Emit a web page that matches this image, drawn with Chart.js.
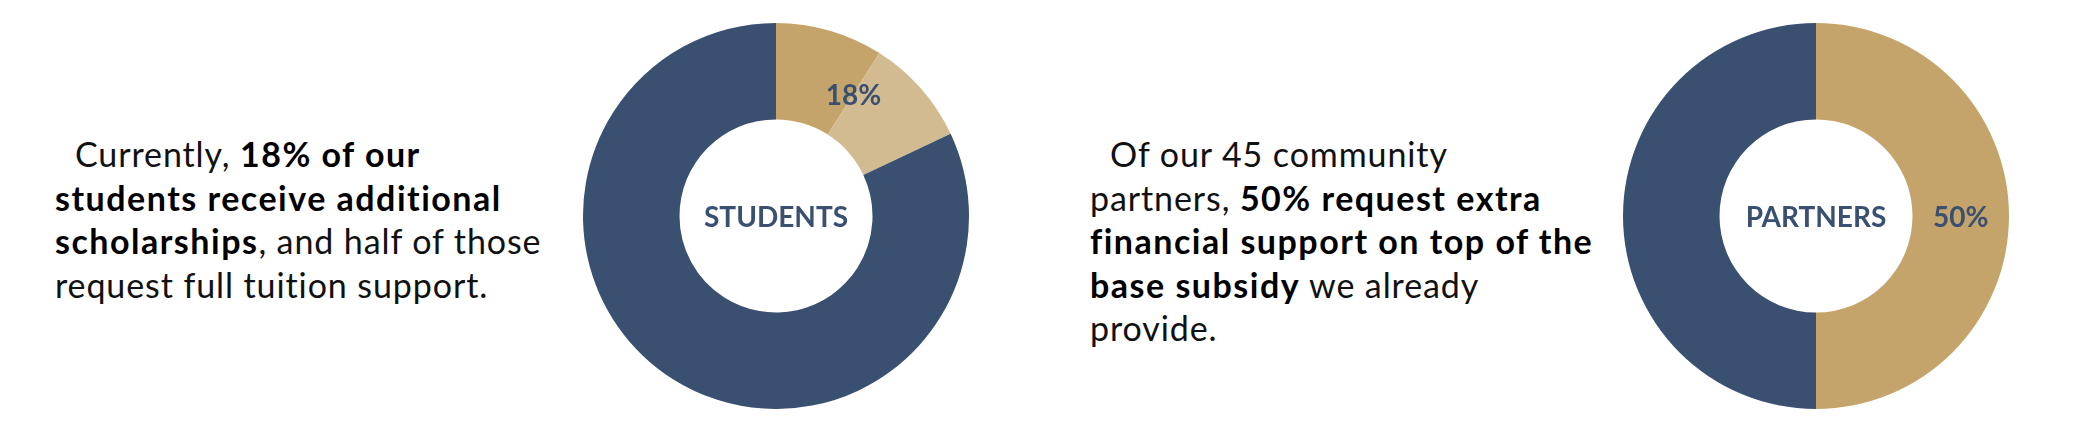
<!DOCTYPE html>
<html>
<head>
<meta charset="utf-8">
<script src="https://cdn.jsdelivr.net/npm/chart.js@4/dist/chart.umd.min.js"></script>
<style>
  html, body { margin: 0; padding: 0; background: #fff; }
  body { width: 2080px; height: 434px; position: relative; overflow: hidden; font-family: Lato, sans-serif; }
  .blurb {
    position: absolute;
    top: 132px;
    font-size: 34px;
    line-height: 43.5px;
    letter-spacing: 0.9px;
    color: #111;
    white-space: nowrap;
    text-indent: 20px;
  }
  .blurb b { font-weight: 700; color: #000; letter-spacing: 1.5px; }
  .donut { position: absolute; top: 23px; width: 386px; height: 386px; }
</style>
</head>
<body>
<div class="blurb" style="left:55px">Currently, <b>18% of our</b><br><b>students receive additional</b><br><b>scholarships</b>, and half of those<br>request full tuition support.</div>
<div class="donut" style="left:583px"><canvas id="studentsChart"></canvas></div>

<div class="blurb" style="left:1090px">Of our 45 community<br>partners, <b>50% request extra</b><br><b>financial support on top of the</b><br><b>base subsidy</b> we already<br>provide.</div>
<div class="donut" style="left:1623px"><canvas id="partnersChart"></canvas></div>

<script>
// students: half of the 18% ask for full tuition support
var studentLabels = ['Full tuition support', 'Other additional scholarships', 'No additional scholarship'];
var studentValues = [9, 9, 82];
var studentHighlight = 2; // first N slices make up the labelled share

var partnerLabels = ['Extra financial support', 'Base subsidy only'];
var partnerValues = [50, 50];
var partnerHighlight = 1;

var navy = 'rgb(58, 80, 112)';
var gold = 'rgb(196, 164, 106)';
var lightGold = 'rgb(211, 187, 145)';

// draws the centre title and the share label inside the ring
var ringLabels = {
    id: 'ringLabels',
    afterDatasetsDraw: function(chart, args, opts) {
        var ctx = chart.ctx;
        var arcs = chart.getDatasetMeta(0).data;
        var values = chart.data.datasets[0].data;
        var total = values.reduce(function(a, b) { return a + b; }, 0);
        var share = 0;
        for (var i = 0; i < opts.count; i++) share += values[i];
        var first = arcs[0], last = arcs[opts.count - 1];
        var mid = (first.startAngle + last.endAngle) / 2;
        var r = (first.innerRadius + first.outerRadius) / 2;

        ctx.save();
        ctx.fillStyle = navy;
        ctx.textAlign = 'center';
        ctx.textBaseline = 'middle';
        ctx.font = 'bold 28px Lato';
        ctx.fillText(opts.title, first.x, first.y + 2);
        ctx.fillText(Math.round(share / total * 100) + '%', first.x + Math.cos(mid) * r, first.y + Math.sin(mid) * r + 2);
        ctx.restore();
    }
};

function makeDonut(id, labels, values, colors, title, count) {
    return new Chart(document.getElementById(id).getContext('2d'), {
        type: 'doughnut',
        data: {
            labels: labels,
            datasets: [{
                data: values,
                backgroundColor: colors,
                borderWidth: 0
            }]
        },
        options: {
            responsive: true,
            maintainAspectRatio: false,
            animation: false,
            cutout: '50%',
            plugins: {
                legend: { display: false },
                tooltip: { enabled: false },
                ringLabels: { title: title, count: count }
            }
        },
        plugins: [ringLabels]
    });
}

makeDonut('studentsChart', studentLabels, studentValues, [gold, lightGold, navy], 'STUDENTS', studentHighlight);
makeDonut('partnersChart', partnerLabels, partnerValues, [gold, navy], 'PARTNERS', partnerHighlight);
</script>
</body>
</html>
